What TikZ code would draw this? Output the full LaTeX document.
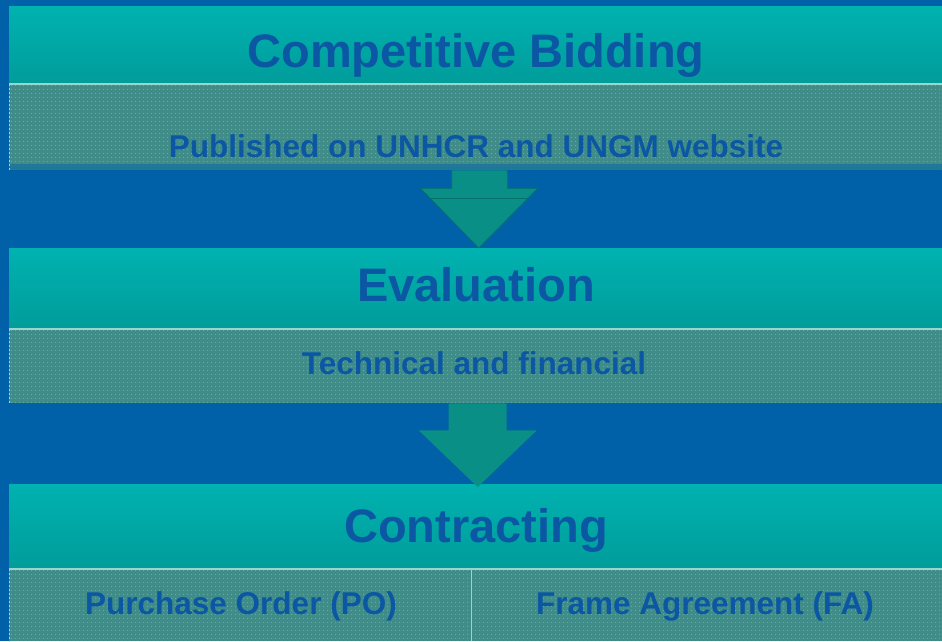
\documentclass[tikz,border=0pt]{standalone}
\usepackage{fontspec}
\setmainfont{Liberation Sans}
\usetikzlibrary{patterns,patterns.meta,calc}
\definecolor{bg}{HTML}{0060A8}
\definecolor{tealtop}{HTML}{00B2B0}
\definecolor{tealbot}{HTML}{009C9A}
\definecolor{bandc}{HTML}{3F8C89}
\definecolor{dotc}{HTML}{66AEA9}
\definecolor{txt}{HTML}{0B57A3}
\definecolor{arrowc}{HTML}{0A8F86}
\definecolor{arrowedge}{HTML}{06706A}
\definecolor{edgec}{HTML}{9AD6D0}
\begin{document}
\begin{tikzpicture}[x=1pt,y=-1pt,
  headbox/.style={anchor=north west, inner sep=0pt, minimum width=933pt,
    top color=tealtop, bottom color=tealbot, draw=none},
  bandbox/.style={anchor=north west, inner sep=0pt, fill=bandc,
    postaction={pattern={Dots[distance=4pt, radius=0.7pt]}, pattern color=dotc}},
  bigtext/.style={anchor=base, text=txt, font=\bfseries\fontsize{47}{50}\selectfont, inner sep=0pt},
  smalltext/.style={anchor=base, text=txt, font=\bfseries\fontsize{31.5}{34}\selectfont, inner sep=0pt},
  blockarrow/.style={fill=arrowc, draw=arrowedge, line width=0.6pt}]
\fill[bg] (0,0) rectangle (942,641);
\useasboundingbox (0,0) rectangle (942,641);

% level 1
\node[headbox, minimum height=78pt] (h1) at (9,6) {};
\node[bandbox, minimum width=933pt, minimum height=86pt] (b1) at (9,84) {};
\fill[bg!60!bandc, opacity=0.8] (b1.south west) rectangle ($(b1.south east)+(0,-6)$);
\draw[edgec, line width=1.2pt] (b1.north west) -- (b1.north east);
\draw[edgec, dashed, line width=0.8pt, dash pattern=on 2pt off 2pt] (b1.north west) -- (b1.south west);
\node[bigtext] (t1) at (476,67) {Competitive Bidding};
\node[smalltext] (s1) at (476,157) {Published on UNHCR and UNGM website};

% level 2
\node[headbox, minimum height=81pt] (h2) at (9,248) {};
\node[bandbox, minimum width=933pt, minimum height=74pt] (b2) at (9,329) {};
\draw[edgec, line width=1.2pt] (b2.north west) -- (b2.north east);
\draw[edgec, dashed, line width=0.8pt, dash pattern=on 2pt off 2pt] (b2.north west) -- (b2.south west);
\node[bigtext] (t2) at (476,301) {Evaluation};
\node[smalltext] (s2) at (474,374) {Technical and financial};

% level 3
\node[headbox, minimum height=85pt] (h3) at (9,484) {};
\node[bandbox, minimum width=462pt, minimum height=72pt] (b3a) at (9,569) {};
\node[bandbox, minimum width=471pt, minimum height=72pt] (b3b) at (471,569) {};
\draw[edgec, line width=1.2pt] (b3a.north west) -- (b3b.north east);
\draw[edgec, line width=1pt] (b3b.north west) -- (b3b.south west);
\draw[edgec, dashed, line width=0.8pt, dash pattern=on 2pt off 2pt] (b3a.north west) -- (b3a.south west);
\node[bigtext] (t3) at (476,542) {Contracting};
\node[smalltext] (s3a) at (241,614) {Purchase Order (PO)};
\node[smalltext] (s3b) at (705,614) {Frame Agreement (FA)};

% arrows
\coordinate (a1top) at ($(b1.south west)!0.5!(b1.south east)+(4,0)$);
\coordinate (a1tip) at ($(h2.north west)!0.5!(h2.north east)+(3,0)$);
\filldraw[blockarrow] ($(a1top)+(-28,0)$) -- ($(a1top)+(-28,18)$) -- ($(a1top)+(-59,18)$)
  -- (a1tip) -- ($(a1top)+(58,18)$) -- ($(a1top)+(28,18)$) -- ($(a1top)+(28,0)$);
\draw[arrowedge, line width=1pt] ($(a1top)+(-49,28)$) -- ($(a1top)+(48,28)$);

\coordinate (a2top) at ($(b2.south west)!0.5!(b2.south east)+(2,0)$);
\coordinate (a2tip) at ($(h3.north west)!0.5!(h3.north east)+(2,3)$);
\fill[arrowc] ($(a2top)+(-29,0)$) -- ($(a2top)+(-29,27)$) -- ($(a2top)+(-59,27)$)
  -- (a2tip) -- ($(a2top)+(59,27)$) -- ($(a2top)+(29,27)$) -- ($(a2top)+(29,0)$) -- cycle;
\end{tikzpicture}
\end{document}
